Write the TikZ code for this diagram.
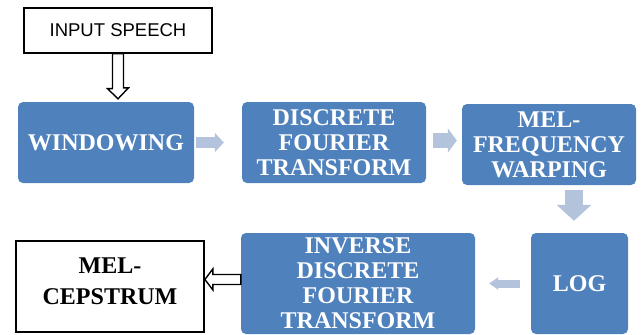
\documentclass[tikz,border=0pt]{standalone}
\usepackage{fontspec}
\setmainfont{Liberation Serif}
\newfontfamily\arialfont{Liberation Sans}
\usepackage{tikz}
\usetikzlibrary{arrows.meta}

\definecolor{stageblue}{HTML}{4F81BD}
\definecolor{flowblue}{HTML}{B4C3DC}

\begin{document}
\begin{tikzpicture}[x=1pt,y=-1pt,
  stage/.style={fill=stageblue, rounded corners=5pt, inner sep=0pt, text=white, align=center,
    font=\bfseries\fontsize{24}{25}\selectfont},
  endbox/.style={draw=black, line width=1.8pt, inner sep=0pt, align=center,
    font=\bfseries\fontsize{24}{31}\selectfont},
  hollow/.style={draw=black, fill=white, line width=1.4pt, line join=miter},
  flow/.style={draw=flowblue, line width=#1}]

\useasboundingbox (0,0) rectangle (641,335);

\node[draw=black, line width=1.3pt, minimum width=188pt, minimum height=45pt, inner sep=0pt,
  font=\arialfont\fontsize{18.5}{20}\selectfont] (inp) at (118,30.5) {INPUT SPEECH\hspace{12pt}};

\node[stage, minimum width=176pt, minimum height=81pt] (win) at (106,142.5) {WINDOWING};
\node[stage, minimum width=184pt, minimum height=81pt] (dft) at (334,142.5) {DISCRETE\\FOURIER\\TRANSFORM};
\node[stage, minimum width=174pt, minimum height=81pt] (mel) at (549,144.5) {MEL-\\FREQUENCY\\WARPING};
\node[stage, minimum width=97pt, minimum height=101pt] (log) at (579.5,283.5) {LOG};
\node[stage, minimum width=234pt, minimum height=101pt] (idft) at (358,283.5) {INVERSE\\DISCRETE\\FOURIER\\TRANSFORM};
\node[endbox, minimum width=188pt, minimum height=91pt, text depth=10pt] (cep) at (110,286.5) {MEL-\\CEPSTRUM};

% hollow arrows
\draw[hollow] ([xshift=-5.5pt]inp.south) -- ++(0,35) -- ++(-5,0) -- ([yshift=3pt]inp.south |- win.north)
  -- ++(10.5,-11) -- ++(-5,0) -- ([xshift=5.5pt]inp.south) -- cycle;
\draw[hollow] ([yshift=9pt]idft.west) -- ++(-28,0) -- ++(0,-5.5) -- ([yshift=4pt]cep.east |- idft.west)
  -- ++(8,10.5) -- ++(0,-5.5) -- ([yshift=-1pt]idft.west) -- cycle;

% flow arrows
\draw[flow=11pt, -{Triangle[length=9pt,width=19pt]}] ([xshift=2pt]win.east) -- ([xshift=-18pt]dft.west);
\draw[flow=15pt, -{Triangle[length=9pt,width=24pt]}] ([xshift=7pt,yshift=2pt]dft.east) -- ([xshift=-5pt,yshift=2pt]dft.east -| mel.west);
\draw[flow=18pt, -{Triangle[length=16pt,width=34pt]}] ([xshift=25pt,yshift=-5pt]mel.south) -- ([xshift=25pt,yshift=12pt]mel.south |- log.north);
\draw[flow=8pt, -{Triangle[length=9pt,width=12pt]}] ([xshift=-11pt]log.west) -- ([xshift=14pt]idft.east);

\end{tikzpicture}
\end{document}
